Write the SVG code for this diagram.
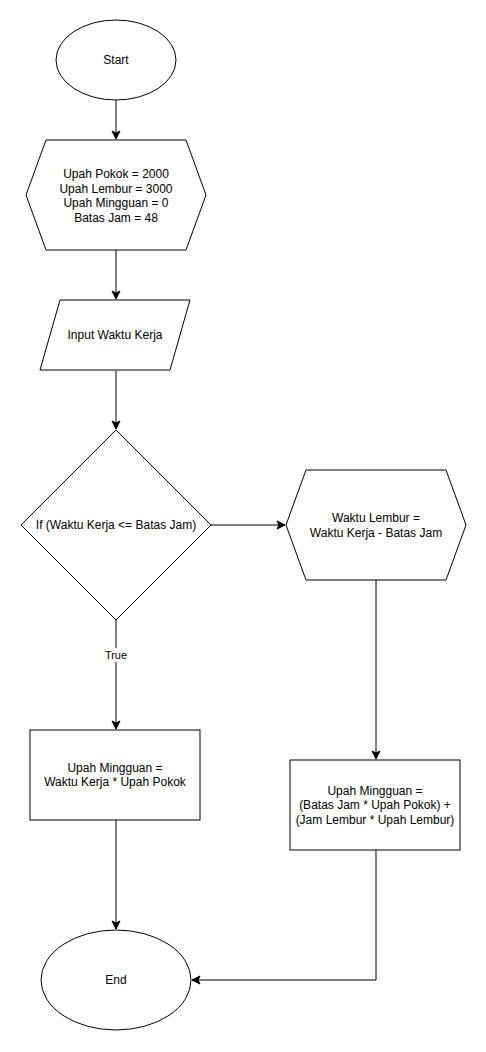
<svg xmlns="http://www.w3.org/2000/svg" width="486" height="1052" viewBox="0 0 486 1052">
<defs>
<style>
.s{fill:#fff;stroke:#000;stroke-width:1}
.t{font-family:"Liberation Sans",Arial,Helvetica,sans-serif;font-size:12px;fill:#000;text-anchor:middle;dominant-baseline:central}
.l{font-family:"Liberation Sans",Arial,Helvetica,sans-serif;font-size:11px;fill:#000;text-anchor:middle;dominant-baseline:central}
.c{fill:none;stroke:#000;stroke-width:1;marker-end:url(#arr)}
</style>
<marker id="arr" markerUnits="userSpaceOnUse" markerWidth="12" markerHeight="12" viewBox="-10 -6 12 12" refX="0" refY="0" orient="auto">
<path d="M -8 -4 L 0 0 L -8 4 L -6 0 Z" fill="#000" stroke="#000" stroke-width="1" stroke-linejoin="miter"/>
</marker>
</defs>
<rect width="486" height="1052" fill="#fff"/>
<g id="connectors">
<path class="c" d="M116 100 L116 139"/>
<path class="c" d="M116 250 L116 299"/>
<path class="c" d="M116 371 L116 429"/>
<path class="c" d="M211 525 L285 525"/>
<path class="c" d="M116 620 L116 729"/>
<path class="c" d="M376 580 L376 759"/>
<path class="c" d="M116 820 L116 929"/>
<path class="c" d="M376 850 L376 980 L192 980"/>
<rect x="100" y="648" width="32" height="14" fill="#fff"/>
<text class="l" x="116" y="655">True</text>
</g>
<g id="start">
<ellipse class="s" cx="116" cy="60" rx="60" ry="40"/>
<text class="t" x="116" y="60">Start</text>
</g>
<g id="init">
<polygon class="s" points="26,195 46,140 186,140 206,195 186,250 46,250"/>
<text class="t" x="116" y="174">Upah Pokok = 2000</text>
<text class="t" x="116" y="188.5">Upah Lembur = 3000</text>
<text class="t" x="116" y="203">Upah Mingguan = 0</text>
<text class="t" x="116" y="217.5">Batas Jam = 48</text>
</g>
<g id="input">
<polygon class="s" points="60,300 190,300 170,370 40,370"/>
<text class="t" x="115" y="335">Input Waktu Kerja</text>
</g>
<g id="decision">
<polygon class="s" points="116,430 211,525 116,620 21,525"/>
<text class="t" x="116" y="525">If (Waktu Kerja &lt;= Batas Jam)</text>
</g>
<g id="lembur">
<polygon class="s" points="286,525 306,470 446,470 466,525 446,580 306,580"/>
<text class="t" x="376" y="518">Waktu Lembur =</text>
<text class="t" x="376" y="532.5">Waktu Kerja - Batas Jam</text>
</g>
<g id="upah1">
<rect class="s" x="30" y="730" width="170" height="90"/>
<text class="t" x="115" y="767.5">Upah Mingguan =</text>
<text class="t" x="115" y="782">Waktu Kerja * Upah Pokok</text>
</g>
<g id="upah2">
<rect class="s" x="290" y="760" width="170" height="90"/>
<text class="t" x="375" y="790.5">Upah Mingguan =</text>
<text class="t" x="375" y="805">(Batas Jam * Upah Pokok) +</text>
<text class="t" x="375" y="819.5">(Jam Lembur * Upah Lembur)</text>
</g>
<g id="end">
<ellipse class="s" cx="116" cy="980" rx="75" ry="50"/>
<text class="t" x="116" y="980">End</text>
</g>
</svg>
